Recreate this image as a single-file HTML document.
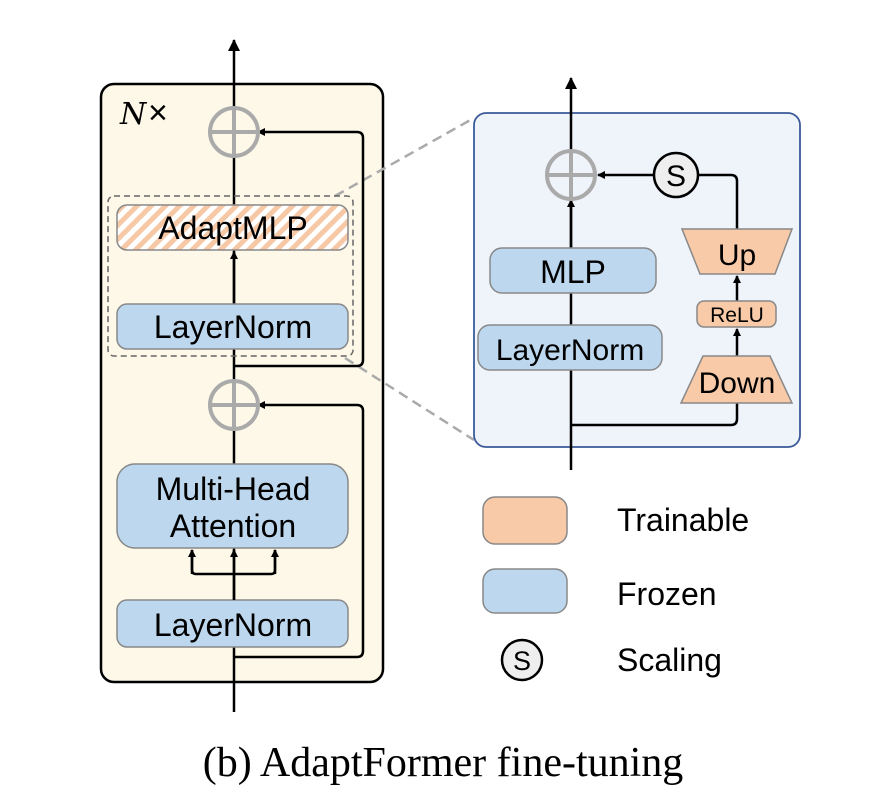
<!DOCTYPE html>
<html><head><style>body{margin:0;background:#fff}svg{display:block}</style></head><body>
<svg width="882" height="794" viewBox="0 0 882 794" xmlns="http://www.w3.org/2000/svg" font-family="Liberation Sans, sans-serif">
<defs>
<marker id="a" markerWidth="8" markerHeight="8" refX="7" refY="4" orient="auto" markerUnits="userSpaceOnUse"><path d="M0,0 L8,4 L0,8 z" fill="#000"/></marker>
<marker id="b" markerWidth="12" markerHeight="12" refX="11" refY="6" orient="auto" markerUnits="userSpaceOnUse"><path d="M0,0 L12,6 L0,12 z" fill="#000"/></marker>
<pattern id="h" width="10" height="10" patternUnits="userSpaceOnUse" patternTransform="rotate(45)"><rect width="10" height="10" fill="#fff"/><rect width="5" height="10" fill="#f6c8a6"/></pattern>
</defs>
<rect x="101" y="84" width="282" height="598" rx="13" fill="#fdf8e8" stroke="#000" stroke-width="2.5"/>
<text x="120" y="124" font-family="DejaVu Serif, serif" font-style="italic" font-size="30">N</text>
<text x="148" y="124" font-size="34">×</text>
<line x1="234" y1="712" x2="234" y2="40" stroke="#000" stroke-width="2.5" marker-end="url(#b)"/>
<line x1="335" y1="196" x2="474" y2="118" stroke="#aaa" stroke-width="2.5" stroke-dasharray="10,6"/>
<line x1="345" y1="358" x2="474" y2="440" stroke="#aaa" stroke-width="2.5" stroke-dasharray="10,6"/>
<rect x="108" y="196" width="245" height="160" rx="6" fill="none" stroke="#666" stroke-width="1.5" stroke-dasharray="6,4"/>
<path d="M234,366 H357 Q363,366 363,360 V138 Q363,132 357,132 H258" fill="none" stroke="#000" stroke-width="2.5" marker-end="url(#a)"/>
<path d="M234,657 H357 Q363,657 363,651 V411 Q363,405 357,405 H258" fill="none" stroke="#000" stroke-width="2.5" marker-end="url(#a)"/>
<g fill="#fdf8e8" stroke="#aaa" stroke-width="4">
<circle cx="234" cy="132" r="24"/><line x1="210" y1="132" x2="258" y2="132"/><line x1="234" y1="108" x2="234" y2="156"/>
<circle cx="234" cy="405" r="24"/><line x1="210" y1="405" x2="258" y2="405"/><line x1="234" y1="381" x2="234" y2="429"/>
</g>
<rect x="117" y="205" width="231" height="45" rx="10" fill="url(#h)" stroke="#888" stroke-width="1.5"/>
<line x1="234" y1="304" x2="234" y2="252" stroke="#000" stroke-width="2.5" marker-end="url(#a)"/>
<rect x="117" y="304" width="231" height="45" rx="10" fill="#bdd7ee" stroke="#888" stroke-width="1.5"/>
<rect x="117" y="464" width="231" height="84" rx="18" fill="#bdd7ee" stroke="#888" stroke-width="1.5"/>
<rect x="117" y="600" width="231" height="47" rx="10" fill="#bdd7ee" stroke="#888" stroke-width="1.5"/>
<path d="M192,550 V570 Q192,574 196,574 H271 Q275,574 275,570 V550" fill="none" stroke="#000" stroke-width="2.5"/>
<line x1="192" y1="574" x2="192" y2="550" stroke="#000" stroke-width="2.5" marker-end="url(#a)"/>
<line x1="234" y1="600" x2="234" y2="550" stroke="#000" stroke-width="2.5" marker-end="url(#a)"/>
<line x1="275" y1="574" x2="275" y2="550" stroke="#000" stroke-width="2.5" marker-end="url(#a)"/>
<g font-size="32" text-anchor="middle">
<text x="233" y="239">AdaptMLP</text>
<text x="233" y="338">LayerNorm</text>
<text x="233" y="500">Multi-Head</text>
<text x="233" y="537">Attention</text>
<text x="233" y="636">LayerNorm</text>
</g>
<rect x="474" y="113" width="326" height="334" rx="12" fill="#eff3fa" stroke="#3a5a9a" stroke-width="1.8"/>
<line x1="571" y1="470" x2="571" y2="78" stroke="#000" stroke-width="2.5" marker-end="url(#b)"/>
<line x1="571" y1="248" x2="571" y2="200" stroke="#000" stroke-width="2.5" marker-end="url(#a)"/>
<path d="M571,425 H731 Q737,425 737,419 V403" fill="none" stroke="#000" stroke-width="2.5"/>
<line x1="737" y1="356" x2="737" y2="329" stroke="#000" stroke-width="2.5" marker-end="url(#a)"/>
<line x1="737" y1="301" x2="737" y2="276" stroke="#000" stroke-width="2.5" marker-end="url(#a)"/>
<path d="M737,229 V181 Q737,175 731,175 H698" fill="none" stroke="#000" stroke-width="2.5"/>
<line x1="654" y1="175" x2="598" y2="175" stroke="#000" stroke-width="2.5" marker-end="url(#a)"/>
<g fill="#eff3fa" stroke="#aaa" stroke-width="4">
<circle cx="571" cy="175" r="24"/><line x1="547" y1="175" x2="595" y2="175"/><line x1="571" y1="151" x2="571" y2="199"/>
</g>
<circle cx="676" cy="175" r="22" fill="#eee" stroke="#000" stroke-width="2.5"/>
<rect x="490" y="248" width="166" height="45" rx="12" fill="#bdd7ee" stroke="#888" stroke-width="1.5"/>
<rect x="478" y="325" width="184" height="45" rx="12" fill="#bdd7ee" stroke="#888" stroke-width="1.5"/>
<path d="M682,229 H792 L775,274 H700 z" fill="#f8caa8" stroke="#888" stroke-width="1.5"/>
<rect x="697" y="301" width="79" height="26" rx="7" fill="#f8caa8" stroke="#888" stroke-width="1.5"/>
<path d="M703,356 H770 L792,403 H681 z" fill="#f8caa8" stroke="#888" stroke-width="1.5"/>
<g text-anchor="middle">
<text x="676" y="186" font-size="30">S</text>
<text x="573" y="283" font-size="32">MLP</text>
<text x="570" y="360" font-size="30">LayerNorm</text>
<text x="737" y="265" font-size="30">Up</text>
<text x="737" y="322" font-size="21">ReLU</text>
<text x="737" y="393" font-size="30">Down</text>
</g>
<rect x="483" y="497" width="84" height="47" rx="12" fill="#f8caa8" stroke="#888" stroke-width="1.5"/>
<rect x="483" y="569" width="84" height="44" rx="12" fill="#bdd7ee" stroke="#888" stroke-width="1.5"/>
<circle cx="522" cy="660" r="20" fill="#eee" stroke="#000" stroke-width="2.5"/>
<text x="522" y="670" font-size="27" text-anchor="middle">S</text>
<g font-size="32">
<text x="617" y="531">Trainable</text>
<text x="617" y="605">Frozen</text>
<text x="617" y="671">Scaling</text>
</g>
<text x="443" y="776" font-family="Liberation Serif, serif" font-size="42" text-anchor="middle">(b) AdaptFormer fine-tuning</text>
</svg>
</body></html>
